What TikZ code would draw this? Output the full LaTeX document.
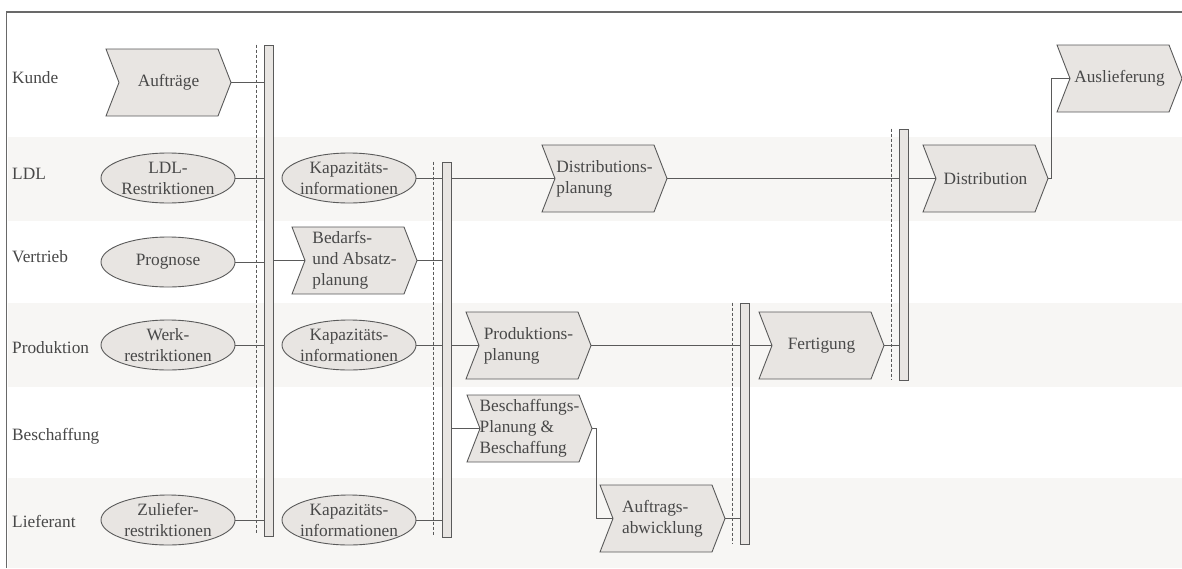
\documentclass[tikz,border=0pt]{standalone}
\usepackage{fontspec}
\setmainfont{Liberation Serif}
\usetikzlibrary{shapes.geometric}
\definecolor{band}{RGB}{247,246,244}
\definecolor{shp}{RGB}{232,229,226}
\definecolor{ln}{RGB}{90,90,90}
\definecolor{tx}{RGB}{72,72,72}
\definecolor{frm}{RGB}{105,105,105}
\tikzset{
  chev/.pic={
    \path[draw=ln, fill=shp, line width=0.9pt, line join=miter]
      (0,0) -- (112,0) -- (125,33.5) -- (112,67) -- (0,67) -- (13,33.5) -- cycle;
    \coordinate (-in) at (13,33.5);
    \coordinate (-out) at (125,33.5);
    \node[align=left, inner sep=0pt, text=tx] (-t) at (62.5,33.5) {#1};
  },
  ell/.style={ellipse, draw=ln, fill=shp, line width=0.9pt, minimum width=134pt,
    minimum height=50pt, inner sep=-5pt, align=center, text=tx},
  bar/.style={draw=ln, fill=shp, line width=0.9pt, minimum width=9pt, inner sep=0pt},
  dsh/.style={draw=ln, line width=0.8pt, dash pattern=on 3pt off 2pt},
  conn/.style={draw=ln, line width=0.9pt},
  rowlab/.style={anchor=base west, inner sep=0pt, text=tx},
  frame/.style={draw=frm, line width=1.2pt}
}
\begin{document}
\begin{tikzpicture}[x=1pt, y=-1pt, font=\fontsize{17.3}{21}\selectfont]
\path[use as bounding box, fill=white] (0,0) rectangle (1182,568);
% bands
\fill[band] (8,137) rectangle (1182,221);
\fill[band] (8,303) rectangle (1182,387);
\fill[band] (8,478) rectangle (1182,568);
% frame
\draw[frame] (1182,12) -- (6.5,12) -- (6.5,568);
% row labels
\node[rowlab] (rK) at (12,83) {Kunde};
\node[rowlab] (rL) at (12,179) {LDL};
\node[rowlab] (rV) at (12,262) {Vertrieb};
\node[rowlab] (rP) at (12,353) {Produktion};
\node[rowlab] (rB) at (12,440) {Beschaffung};
\node[rowlab] (rLi) at (12,527) {Lieferant};
% bars
\node[bar, minimum height=491pt] (b1) at (268.5,290.5) {};
\node[bar, minimum height=375pt] (b2) at (447,349.5) {};
\node[bar, minimum height=251pt] (b3) at (903.5,254.5) {};
\node[bar, minimum height=241pt] (b4) at (745,423.5) {};
\draw[dsh] ([xshift=-7pt]b1.north west) -- ([xshift=-7pt,yshift=3pt]b1.south west);
\draw[dsh] ([xshift=-9pt]b2.north west) -- ([xshift=-9pt,yshift=2pt]b2.south west);
\draw[dsh] ([xshift=-7pt]b3.north west) -- ([xshift=-7pt]b3.south west);
\draw[dsh] ([xshift=-8pt]b4.north west) -- ([xshift=-8pt]b4.south west);
% ellipses
\node[ell] (ldlr) at (168,178) {LDL-\\Restriktionen};
\node[ell] (prog) at (168,262) {Prognose};
\node[ell] (werk) at (168,345) {Werk-\\restriktionen};
\node[ell] (zul) at (168,520) {Zuliefer-\\restriktionen};
\node[ell] (kap1) at (349,178) {Kapazitäts-\\informationen};
\node[ell] (kap2) at (349,345) {Kapazitäts-\\informationen};
\node[ell] (kap3) at (349,520) {Kapazitäts-\\informationen};
% chevrons
\pic (auf) at (106,49) {chev={Aufträge}};
\pic (bed) at (292,227) {chev={Bedarfs-\\und Absatz-\\planung}};
\pic (distp) at (542,145) {chev={Distributions-\\planung}};
\pic (dist) at (923,145) {chev={Distribution}};
\pic (ausl) at (1057,45) {chev={Auslieferung}};
\pic (prodp) at (466,312) {chev={Produktions-\\planung}};
\pic (fert) at (759,312) {chev={Fertigung}};
\pic (besch) at (467,395) {chev={Beschaffungs-\\Planung \&\\Beschaffung}};
\pic (auft) at (600,485) {chev={Auftrags-\\abwicklung}};
% connectors
\draw[conn] (auf-out) -- (auf-out -| b1.west);
\draw[conn] (ldlr.east) -- (ldlr.east -| b1.west);
\draw[conn] (prog.east) -- (prog.east -| b1.west);
\draw[conn] (werk.east) -- (werk.east -| b1.west);
\draw[conn] (zul.east) -- (zul.east -| b1.west);
\draw[conn] (b1.east |- bed-in) -- (bed-in);
\draw[conn] (bed-out) -- (bed-out -| b2.west);
\draw[conn] (kap1.east) -- (kap1.east -| b2.west);
\draw[conn] (kap2.east) -- (kap2.east -| b2.west);
\draw[conn] (kap3.east) -- (kap3.east -| b2.west);
\draw[conn] (b2.east |- distp-in) -- (distp-in);
\draw[conn] (b2.east |- prodp-in) -- (prodp-in);
\draw[conn] (b2.east |- besch-in) -- (besch-in);
\draw[conn] (distp-out) -- (distp-out -| b3.west);
\draw[conn] (b3.east |- dist-in) -- (dist-in);
\draw[conn] (dist-out) -- ++(3,0) |- (ausl-in);
\draw[conn] (prodp-out) -- (prodp-out -| b4.west);
\draw[conn] (b4.east |- fert-in) -- (fert-in);
\draw[conn] (fert-out) -- (fert-out -| b3.west);
\draw[conn] (besch-out) -- ++(4,0) |- (auft-in);
\draw[conn] (auft-out) -- (auft-out -| b4.west);
\end{tikzpicture}
\end{document}
